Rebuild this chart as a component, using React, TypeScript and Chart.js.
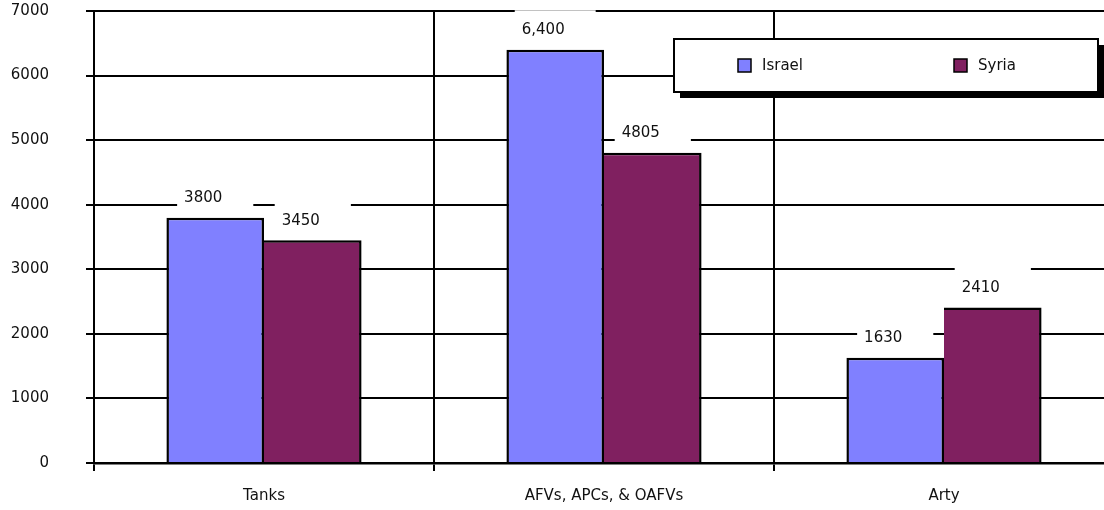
import React, { useEffect, useRef } from 'react';
import { Chart, registerables } from 'chart.js';

Chart.register(...registerables);

const categories = ['Tanks', 'AFVs, APCs, & OAFVs', 'Arty'];
const seriesNames = ['Israel', 'Syria'];
const israelValues = [3800, 6400, 1630];
const syriaValues = [3450, 4805, 2410];
const israelValueLabels = ['3800', '6,400', '1630'];
const syriaValueLabels = ['3450', '4805', '2410'];
const yMin = 0;
const yMax = 7000;
const yStep = 1000;

const FONT = '"DejaVu Sans", Verdana, sans-serif';
const ISRAEL_COLOR = '#8080FF';
const SYRIA_COLOR = '#802060';

const boxLabelsPlugin = {
  id: 'boxLabels',
  afterDatasetsDraw(chart: any) {
    const ctx = chart.ctx;
    ctx.save();
    ctx.font = `15px ${FONT}`;
    ctx.textBaseline = 'middle';
    ctx.textAlign = 'left';
    chart.data.datasets.forEach((ds: any, di: number) => {
      const meta = chart.getDatasetMeta(di);
      const texts: string[] = ds.valueLabels;
      meta.data.forEach((bar: any, i: number) => {
        const t = texts[i];
        const w = ctx.measureText(t).width + 38;
        const cy = bar.y - 20.5;
        const left = bar.x - w / 2;
        ctx.fillStyle = '#ffffff';
        ctx.fillRect(left, cy - 19, w, 36);
        ctx.fillStyle = '#111111';
        ctx.fillText(t, left + 7, cy + 1);
      });
    });
    ctx.restore();
  },
};

const boxLegendPlugin = {
  id: 'boxLegend',
  afterDraw(chart: any) {
    const ctx = chart.ctx;
    const bx = 674;
    const by = 39;
    const bw = 424;
    const bh = 53;
    ctx.save();
    ctx.fillStyle = '#000000';
    ctx.fillRect(bx + 6, by + 6, bw, bh);
    ctx.fillStyle = '#ffffff';
    ctx.fillRect(bx, by, bw, bh);
    ctx.strokeStyle = '#000000';
    ctx.lineWidth = 2;
    ctx.strokeRect(bx, by, bw, bh);
    ctx.font = `15px ${FONT}`;
    ctx.textBaseline = 'middle';
    ctx.textAlign = 'left';
    chart.data.datasets.forEach((ds: any, i: number) => {
      const sx = bx + 64 + i * 216;
      const sy = by + 20;
      ctx.fillStyle = ds.backgroundColor;
      ctx.fillRect(sx, sy, 13, 13);
      ctx.lineWidth = 1.5;
      ctx.strokeStyle = '#000000';
      ctx.strokeRect(sx, sy, 13, 13);
      ctx.fillStyle = '#111111';
      ctx.fillText(ds.label, sx + 24, sy + 7);
    });
    ctx.restore();
  },
};

export default function App() {
  const canvasRef = useRef<HTMLCanvasElement | null>(null);

  useEffect(() => {
    const canvas = canvasRef.current;
    if (!canvas) return;
    const chart = new Chart(canvas, {
      type: 'bar',
      data: {
        labels: categories,
        datasets: [
          {
            label: seriesNames[0],
            data: israelValues,
            backgroundColor: ISRAEL_COLOR,
            borderColor: '#000000',
            borderWidth: { top: 2.5, left: 2.5, right: 2.5, bottom: 0 },
            inflateAmount: 0,
            valueLabels: israelValueLabels,
          } as any,
          {
            label: seriesNames[1],
            data: syriaValues,
            backgroundColor: SYRIA_COLOR,
            borderColor: '#000000',
            borderWidth: { top: 2.5, left: 0, right: 2.5, bottom: 0 },
            inflateAmount: 0,
            valueLabels: syriaValueLabels,
          } as any,
        ],
      },
      options: {
        responsive: false,
        animation: false,
        devicePixelRatio: 1,
        layout: { padding: { top: 11, right: 2, left: 0, bottom: 0 } },
        datasets: {
          bar: { categoryPercentage: 0.574, barPercentage: 1 },
        },
        plugins: {
          legend: { display: false },
          tooltip: { enabled: false },
          title: { display: false },
        },
        scales: {
          x: {
            offset: true,
            grid: {
              display: true,
              offset: true,
              color: '#000000',
              lineWidth: 2,
              drawTicks: true,
              tickLength: 8,
            },
            border: { display: true, color: '#000000', width: 2.5 },
            ticks: {
              color: '#111111',
              font: { family: FONT, size: 15 },
              padding: 16,
              maxRotation: 0,
              autoSkip: false,
            },
            afterFit(scale: any) {
              scale.height = 47;
              scale.paddingLeft = 0;
              scale.paddingRight = 0;
            },
          },
          y: {
            min: yMin,
            max: yMax,
            grid: {
              color: '#000000',
              lineWidth: 2,
              drawTicks: true,
              tickLength: 8,
            },
            border: { display: true, color: '#000000', width: 2 },
            ticks: {
              stepSize: yStep,
              color: '#111111',
              font: { family: FONT, size: 15 },
              padding: 37,
              callback: (v: any) => String(v),
            },
            afterFit(scale: any) {
              scale.width = 94;
              scale.paddingTop = 0;
              scale.paddingBottom = 0;
            },
          },
        },
      },
      plugins: [boxLabelsPlugin, boxLegendPlugin],
    });
    return () => chart.destroy();
  }, []);

  return (
    <div
      style={{
        position: 'absolute',
        left: 0,
        top: 0,
        width: 1104,
        height: 510,
        overflow: 'hidden',
        background: '#ffffff',
      }}
    >
      <canvas ref={canvasRef} width={1116} height={510} style={{ display: 'block', width: 1116, height: 510 }} />
    </div>
  );
}
